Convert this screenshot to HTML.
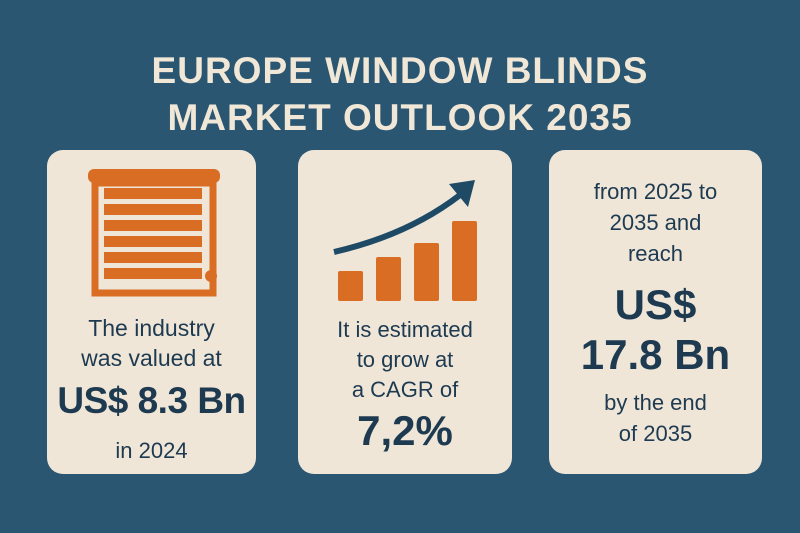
<!DOCTYPE html>
<html><head><meta charset="utf-8"><style>
html,body{margin:0;padding:0}
body{width:800px;height:533px;overflow:hidden;background:#2a5672;font-family:"Liberation Sans",sans-serif;position:relative}
.title{position:absolute;left:0;width:800px;text-align:center;color:#f1e7d6;font-weight:bold;font-size:37px;letter-spacing:1px}
.card{position:absolute;top:150px;height:324px;background:#efe6d8;border-radius:16px}
.t{position:absolute;left:0;width:100%;text-align:center;color:#1e3a50}
</style></head><body>
<div class="title" style="top:50px">EUROPE WINDOW BLINDS</div>
<div class="title" style="top:97px">MARKET OUTLOOK 2035</div>

<div class="card" style="left:47px;width:209px">
<svg width="209" height="160" style="position:absolute;left:0;top:0">
<rect x="41" y="19" width="132" height="14" rx="6" fill="#d96d24"/>
<rect x="48" y="33" width="118" height="110" fill="none" stroke="#d96d24" stroke-width="7"/>
<g fill="#d96d24">
<rect x="57" y="38" width="98" height="11"/><rect x="57" y="54" width="98" height="11"/>
<rect x="57" y="70" width="98" height="11"/><rect x="57" y="86" width="98" height="11"/>
<rect x="57" y="102" width="98" height="11"/><rect x="57" y="118" width="98" height="11"/>
</g>
<line x1="164" y1="33" x2="164" y2="126" stroke="#d96d24" stroke-width="3"/>
<circle cx="164" cy="126" r="6" fill="#d96d24"/>
</svg>
<div class="t" style="top:163px;font-size:23px;line-height:30px">The industry<br>was valued at</div>
<div class="t" style="top:230px;font-size:37px;font-weight:bold;letter-spacing:-0.5px;white-space:nowrap">US$ 8.3 Bn</div>
<div class="t" style="top:288px;font-size:22px">in 2024</div>
</div>

<div class="card" style="left:298px;width:214px">
<svg id="chart" width="214" height="160" style="position:absolute;left:0;top:0"></svg>
<div class="t" style="top:165px;font-size:22px;line-height:30px">It is estimated<br>to grow at<br>a CAGR of</div>
<div class="t" style="top:257px;font-size:42px;font-weight:bold">7,2%</div>
</div>

<div class="card" style="left:549px;width:213px">
<div class="t" style="top:26px;font-size:22px;line-height:31px">from 2025 to<br>2035 and<br>reach</div>
<div class="t" style="top:130px;font-size:42px;font-weight:bold;line-height:50px">US$<br>17.8 Bn</div>
<div class="t" style="top:237px;font-size:22px;line-height:31px">by the end<br>of 2035</div>
</div>
<script>
const categories=['Y1','Y2','Y3','Y4'];
const values=[30,44,58,80];
const svg=document.getElementById('chart');
const NS='http://www.w3.org/2000/svg';
const x=i=>40+i*38, y=v=>151-v, bw=25;
values.forEach((v,i)=>{
 const r=document.createElementNS(NS,'rect');
 r.setAttribute('x',x(i));r.setAttribute('y',y(v));r.setAttribute('width',bw);r.setAttribute('height',v);r.setAttribute('rx',2);r.setAttribute('fill','#d96d24');
 
 
 svg.appendChild(r);
});
const p=document.createElementNS(NS,'path');
p.setAttribute('d','M36 102 Q110 85 162 45');p.setAttribute('stroke','#1e4a66');p.setAttribute('stroke-width','6');p.setAttribute('fill','none');


svg.appendChild(p);
const h=document.createElementNS(NS,'polygon');
h.setAttribute('points','177,30 151,34 170,57');h.setAttribute('fill','#1e4a66');


svg.appendChild(h);
</script>
</body></html>
